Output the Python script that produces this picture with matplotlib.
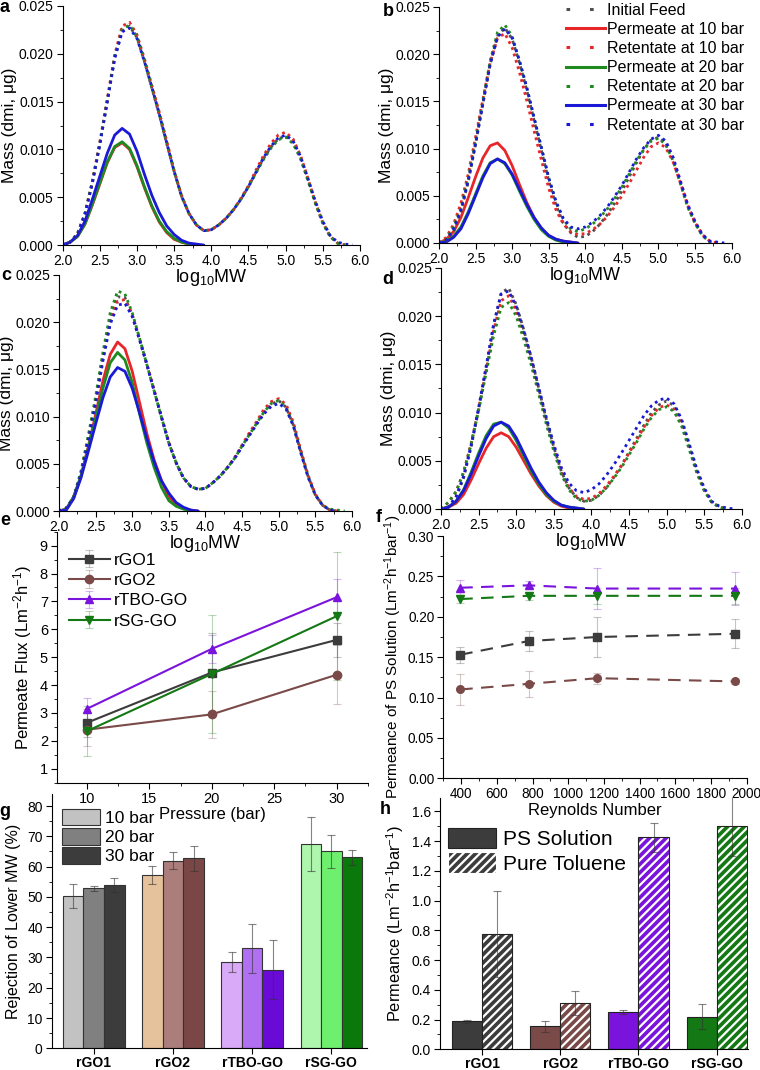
import numpy as np
import matplotlib
matplotlib.use('Agg')
import matplotlib.pyplot as plt
from matplotlib.lines import Line2D
from matplotlib.patches import Patch
from matplotlib.colors import to_rgba
from matplotlib.ticker import MultipleLocator

plt.rcParams['font.family'] = ['Liberation Sans', 'DejaVu Sans']
plt.rcParams['mathtext.fontset'] = 'custom'
plt.rcParams['mathtext.rm'] = 'Liberation Sans'
plt.rcParams['mathtext.it'] = 'Liberation Sans:italic'
plt.rcParams['hatch.linewidth'] = 1.6
plt.rcParams['axes.facecolor'] = 'none'

# ---- GPC curves (panels a-d), log10 MW grid
LOGMW = [2.0, 2.1, 2.2, 2.3, 2.4, 2.5, 2.6, 2.7, 2.8, 2.9, 3.0, 3.1, 3.2, 3.3, 3.4, 3.5, 3.6, 3.7, 3.8, 3.9, 4.0,
         4.1, 4.2, 4.3, 4.4, 4.5, 4.6, 4.7, 4.8, 4.9, 5.0, 5.1, 5.2, 5.3, 5.4, 5.5, 5.6, 5.7, 5.8, 5.9, 6.0]
PERM_MW = [2.0, 2.1, 2.2, 2.3, 2.4, 2.5, 2.6, 2.7, 2.8, 2.9, 3.0, 3.1, 3.2, 3.3, 3.4, 3.5, 3.6, 3.7, 3.8, 3.9, 4.0]

A_FEED = [0, .0003, .0012, .0033, .0066, .0106, .0150, .0196, .0224, .0229, .0217, .0192, .0164, .0136, .0106, .0077, .0051, .0033, .0021, .0015, .0016,
          .0021, .0028, .0037, .0048, .0061, .0076, .0090, .0102, .0111, .0114, .0107, .0091, .0068, .0044, .0023, .0009, .0002, 0, 0, 0]
A_RET10 = [0, .0003, .0012, .0033, .0067, .0108, .0153, .0199, .0229, .0233, .0220, .0195, .0167, .0139, .0109, .0078, .0052, .0033, .0021, .0015, .0016,
           .0021, .0028, .0037, .0049, .0062, .0078, .0093, .0106, .0115, .0118, .0111, .0094, .0070, .0045, .0024, .0009, .0002, 0, 0, 0]
A_RET20 = [0, .0003, .0012, .0033, .0066, .0106, .0151, .0197, .0226, .0230, .0218, .0193, .0165, .0137, .0107, .0077, .0051, .0033, .0021, .0015, .0016,
           .0021, .0028, .0037, .0048, .0061, .0075, .0089, .0101, .0110, .0113, .0106, .0091, .0068, .0044, .0023, .0009, .0002, 0, 0, 0]
A_RET30 = [0, .0003, .0011, .0032, .0065, .0105, .0150, .0195, .0223, .0227, .0216, .0192, .0165, .0137, .0107, .0077, .0051, .0033, .0021, .0015, .0016,
           .0021, .0028, .0037, .0048, .0061, .0076, .0091, .0103, .0112, .0115, .0109, .0093, .0070, .0046, .0025, .0010, .0003, .0001, 0, 0]
A_PER10 = [0, .0003, .0009, .0022, .0042, .0064, .0086, .0102, .0107, .0100, .0082, .0060, .0040, .0024, .0013, .0006, .0003, .0001, 0, 0, 0]
A_PER20 = [0, .0003, .0009, .0022, .0043, .0065, .0087, .0103, .0108, .0101, .0083, .0061, .0041, .0025, .0014, .0007, .0003, .0001, 0, 0, 0]
A_PER30 = [0, .0003, .0010, .0025, .0048, .0072, .0096, .0115, .0122, .0116, .0098, .0074, .0052, .0034, .0020, .0011, .0005, .0002, .0001, 0, 0]

B_FEED = [0, .0002, .0012, .0033, .0065, .0105, .0148, .0190, .0219, .0228, .0216, .0191, .0162, .0130, .0098, .0066, .0040, .0021, .0011, .0006, .0007,
          .0012, .0020, .0030, .0042, .0055, .0070, .0085, .0099, .0109, .0112, .0106, .0089, .0064, .0039, .0021, .0008, .0002, 0, 0, 0]
B_RET10 = [0, .0006, .0020, .0042, .0073, .0112, .0152, .0191, .0217, .0222, .0207, .0181, .0151, .0119, .0088, .0058, .0035, .0020, .0012, .0009, .0010,
           .0014, .0020, .0028, .0038, .0050, .0063, .0077, .0091, .0102, .0106, .0101, .0086, .0064, .0040, .0022, .0009, .0002, 0, 0, 0]
B_RET20 = [0, .0004, .0017, .0037, .0068, .0107, .0150, .0193, .0223, .0231, .0219, .0193, .0164, .0132, .0101, .0069, .0043, .0025, .0015, .0012, .0015,
           .0020, .0027, .0036, .0047, .0059, .0073, .0087, .0099, .0108, .0111, .0104, .0087, .0063, .0038, .0021, .0008, .0001, 0, 0, 0]
B_RET30 = [0, .0003, .0015, .0035, .0066, .0105, .0147, .0189, .0218, .0227, .0217, .0193, .0165, .0133, .0101, .0069, .0044, .0026, .0017, .0015, .0017,
           .0022, .0029, .0038, .0049, .0061, .0075, .0089, .0101, .0110, .0114, .0108, .0091, .0066, .0041, .0023, .0009, .0002, .0001, 0, 0]
B_PER10 = [0, .0004, .0012, .0027, .0048, .0070, .0090, .0103, .0106, .0098, .0082, .0062, .0043, .0027, .0015, .0008, .0004, .0002, .0001, 0, 0]
B_PER20 = [0, .0002, .0007, .0017, .0033, .0052, .0071, .0085, .0089, .0084, .0072, .0055, .0039, .0025, .0014, .0007, .0003, .0001, 0, 0, 0]
B_PER30 = [0, .0001, .0006, .0015, .0031, .0050, .0069, .0084, .0089, .0085, .0073, .0057, .0041, .0027, .0016, .0008, .0004, .0002, .0001, 0, 0]

C_FEED = [0, .0003, .0014, .0040, .0077, .0117, .0164, .0205, .0227, .0226, .0208, .0182, .0155, .0127, .0099, .0072, .0051, .0035, .0026, .0023, .0024,
          .0030, .0037, .0046, .0056, .0069, .0081, .0093, .0105, .0113, .0117, .0110, .0091, .0063, .0037, .0017, .0006, .0001, 0, 0, 0]
C_RET10 = [0, .0003, .0014, .0040, .0077, .0116, .0162, .0201, .0222, .0224, .0208, .0183, .0156, .0128, .0100, .0073, .0051, .0035, .0026, .0023, .0024,
           .0030, .0037, .0046, .0057, .0070, .0083, .0095, .0108, .0116, .0119, .0113, .0094, .0065, .0038, .0018, .0006, .0001, 0, 0, 0]
C_RET20 = [0, .0003, .0015, .0042, .0080, .0121, .0168, .0210, .0233, .0230, .0210, .0183, .0155, .0127, .0099, .0072, .0051, .0035, .0026, .0023, .0024,
           .0030, .0037, .0046, .0056, .0069, .0081, .0093, .0105, .0114, .0117, .0110, .0091, .0063, .0037, .0017, .0006, .0002, .0001, 0, 0]
C_RET30 = [0, .0003, .0014, .0039, .0075, .0114, .0159, .0198, .0218, .0220, .0206, .0181, .0155, .0127, .0099, .0072, .0051, .0035, .0026, .0023, .0024,
           .0030, .0037, .0046, .0056, .0068, .0080, .0092, .0103, .0111, .0114, .0108, .0090, .0062, .0036, .0017, .0006, .0001, 0, 0, 0]
C_PER10 = [0, .0002, .0015, .0037, .0068, .0102, .0138, .0166, .0179, .0172, .0148, .0115, .0082, .0054, .0032, .0015, .0007, .0003, .0001, 0, 0]
C_PER20 = [0, .0002, .0015, .0037, .0067, .0098, .0130, .0157, .0168, .0160, .0136, .0103, .0072, .0046, .0025, .0011, .0005, .0002, 0, 0, 0]
C_PER30 = [0, .0001, .0013, .0035, .0063, .0092, .0120, .0142, .0152, .0148, .0130, .0104, .0077, .0052, .0032, .0019, .0009, .0004, .0001, 0, 0]

D_FEED = [0, .0002, .0012, .0032, .0064, .0103, .0146, .0190, .0224, .0229, .0212, .0186, .0157, .0125, .0093, .0064, .0039, .0022, .0012, .0008, .0009,
          .0014, .0022, .0033, .0045, .0059, .0073, .0087, .0100, .0108, .0112, .0107, .0091, .0066, .0040, .0020, .0007, .0002, 0, 0, 0]
D_RET10 = [0, .0007, .0018, .0038, .0068, .0104, .0144, .0185, .0216, .0221, .0206, .0181, .0153, .0122, .0091, .0063, .0038, .0022, .0013, .0010, .0011,
           .0016, .0024, .0034, .0045, .0058, .0071, .0085, .0097, .0105, .0108, .0103, .0088, .0064, .0039, .0020, .0007, .0002, 0, 0, 0]
D_RET20 = [0, .0007, .0018, .0038, .0067, .0102, .0141, .0180, .0209, .0214, .0200, .0176, .0149, .0119, .0088, .0060, .0036, .0020, .0011, .0008, .0009,
           .0014, .0022, .0032, .0043, .0056, .0069, .0083, .0095, .0103, .0106, .0101, .0086, .0062, .0038, .0019, .0007, .0002, 0, 0, 0]
D_RET30 = [0, .0002, .0013, .0034, .0066, .0105, .0148, .0192, .0223, .0226, .0210, .0185, .0157, .0126, .0095, .0067, .0043, .0027, .0019, .0017, .0020,
           .0026, .0035, .0046, .0058, .0071, .0084, .0097, .0107, .0113, .0115, .0109, .0093, .0068, .0042, .0022, .0008, .0003, .0001, 0, 0]
D_PER10 = [0, .0002, .0006, .0015, .0030, .0047, .0063, .0075, .0079, .0075, .0064, .0050, .0036, .0024, .0014, .0007, .0003, .0001, 0, 0, 0]
D_PER20 = [0, .0002, .0008, .0020, .0038, .0058, .0076, .0088, .0090, .0084, .0071, .0055, .0039, .0026, .0015, .0008, .0004, .0002, .0001, 0, 0]
D_PER30 = [0, .0002, .0008, .0019, .0036, .0055, .0073, .0086, .0090, .0086, .0074, .0058, .0042, .0028, .0017, .0009, .0004, .0002, .0001, 0, 0]

# ---- panel e: permeate flux vs pressure
MEMBRANES = ['rGO1', 'rGO2', 'rTBO-GO', 'rSG-GO']
PRESSURE = [10, 20, 30]
FLUX = {'rGO1': [2.65, 4.45, 5.62], 'rGO2': [2.40, 2.95, 4.37],
        'rTBO-GO': [3.15, 5.30, 7.15], 'rSG-GO': [2.35, 4.40, 6.47]}
FLUX_ERR = {'rGO1': [0.5, 1.4, 0.6], 'rGO2': [0.6, 0.85, 1.05],
            'rTBO-GO': [0.4, 0.5, 0.65], 'rSG-GO': [0.9, 2.1, 2.3]}

# ---- panel f: PS permeance vs Reynolds number
REYNOLDS = [395, 778, 1163, 1935]
PS_PERM = {'rGO1': [0.153, 0.170, 0.175, 0.179], 'rGO2': [0.110, 0.117, 0.124, 0.120],
           'rTBO-GO': [0.236, 0.239, 0.235, 0.235], 'rSG-GO': [0.222, 0.226, 0.226, 0.226]}
PS_PERM_ERR = {'rGO1': [0.010, 0.012, 0.025, 0.018], 'rGO2': [0.019, 0.016, 0.007, 0.003],
               'rTBO-GO': [0.010, 0.005, 0.025, 0.020], 'rSG-GO': [0.005, 0.005, 0.010, 0.010]}

# ---- panel g: rejection of lower MW
PRESS_LABELS = ['10 bar', '20 bar', '30 bar']
REJECTION = {'rGO1': [50.3, 52.8, 53.9], 'rGO2': [57.2, 61.9, 62.7],
             'rTBO-GO': [28.4, 33.0, 26.0], 'rSG-GO': [67.5, 65.1, 63.1]}
REJECTION_ERR = {'rGO1': [4.0, 0.8, 2.3], 'rGO2': [3.0, 2.8, 4.2],
                 'rTBO-GO': [3.3, 8.1, 9.7], 'rSG-GO': [9.0, 5.4, 2.5]}

# ---- panel h: permeance PS solution vs pure toluene
PERM_PS = [0.19, 0.155, 0.25, 0.22]
PERM_PS_ERR = [0.01, 0.035, 0.015, 0.085]
PERM_TOL = [0.775, 0.31, 1.425, 1.50]
PERM_TOL_ERR = [0.29, 0.08, 0.095, 0.20]

RED, GREEN, BLUE, GREY = '#e8262a', '#1f8a1f', '#1a1ad6', '#505050'
MEM_COLORS = {'rGO1': '#3c3c3c', 'rGO2': '#7a4a48', 'rTBO-GO': '#7a14dc', 'rSG-GO': '#147814'}
MEM_MARKERS = {'rGO1': 's', 'rGO2': 'o', 'rTBO-GO': '^', 'rSG-GO': 'v'}
BAR_COLORS = {'rGO1': ['#c2c2c2', '#808080', '#3c3c3c'],
              'rGO2': ['#e6c29c', '#ab7d7b', '#7a4746'],
              'rTBO-GO': ['#d9aaf7', '#b16ff2', '#6a0ad6'],
              'rSG-GO': ['#aef5ae', '#6ef06e', '#0a780a']}

DOT = (0, (1.0, 1.4))


def trim(x, y):
    # drop the long flat zero tails so they are not drawn along the axis
    y = np.asarray(y, dtype=float)
    nz = np.nonzero(y)[0]
    i0, i1 = max(nz[0] - 1, 0), min(nz[-1] + 2, len(y))
    return np.asarray(x)[i0:i1], y[i0:i1]


def style_axes(ax, labelsize=10):
    ax.spines['top'].set_visible(False)
    ax.spines['right'].set_visible(False)
    ax.tick_params(direction='out', length=4, width=0.8, labelsize=labelsize, pad=2.5)
    ax.tick_params(which='minor', direction='out', length=2, width=0.6)


def gpc_panel(ax, feed, rets, pers):
    colors = [RED, GREEN, BLUE]
    for per, c in zip(pers, colors):
        x, y = trim(PERM_MW, per)
        ax.plot(x, y, color=c, lw=2.0, solid_capstyle='round')
    x, y = trim(LOGMW, feed)
    ax.plot(x, y, color=GREY, lw=2.0, ls=DOT)
    for ret, c in zip(rets, colors):
        x, y = trim(LOGMW, ret)
        ax.plot(x, y, color=c, lw=2.0, ls=DOT)
    ax.set_xlim(2.0, 6.0)
    ax.set_ylim(0, 0.025)
    ax.xaxis.set_major_locator(MultipleLocator(0.5))
    ax.xaxis.set_minor_locator(MultipleLocator(0.25))
    ax.yaxis.set_major_locator(MultipleLocator(0.005))
    ax.yaxis.set_minor_locator(MultipleLocator(0.0025))
    ax.yaxis.set_major_formatter(plt.FormatStrFormatter('%.3f'))
    ax.set_xlabel(r'log$_{10}$MW', fontsize=13, labelpad=-1)
    ax.set_ylabel(u'Mass (dmi, \u03bcg)', fontsize=12.5, labelpad=1)
    style_axes(ax)


fig = plt.figure(figsize=(7.6, 10.7), dpi=100)

ax_a = fig.add_axes([0.0825, 0.771, 0.391, 0.2234])
ax_b = fig.add_axes([0.5776, 0.7729, 0.385, 0.2206])
ax_c = fig.add_axes([0.0776, 0.5224, 0.3855, 0.2206])
ax_d = fig.add_axes([0.5803, 0.5243, 0.3957, 0.2254])

gpc_panel(ax_a, A_FEED, [A_RET10, A_RET20, A_RET30], [A_PER10, A_PER20, A_PER30])
gpc_panel(ax_b, B_FEED, [B_RET10, B_RET20, B_RET30], [B_PER10, B_PER20, B_PER30])
gpc_panel(ax_c, C_FEED, [C_RET10, C_RET20, C_RET30], [C_PER10, C_PER20, C_PER30])
gpc_panel(ax_d, D_FEED, [D_RET10, D_RET20, D_RET30], [D_PER10, D_PER20, D_PER30])

legend_dot = (0, (1.2, 6.5))
handles = [Line2D([], [], color=GREY, lw=2.2, ls=legend_dot),
           Line2D([], [], color=RED, lw=2.2),
           Line2D([], [], color=RED, lw=2.2, ls=legend_dot),
           Line2D([], [], color=GREEN, lw=2.2),
           Line2D([], [], color=GREEN, lw=2.2, ls=legend_dot),
           Line2D([], [], color=BLUE, lw=2.2),
           Line2D([], [], color=BLUE, lw=2.2, ls=legend_dot)]
labels = ['Initial Feed', 'Permeate at 10 bar', 'Retentate at 10 bar', 'Permeate at 20 bar',
          'Retentate at 20 bar', 'Permeate at 30 bar', 'Retentate at 30 bar']
ax_b.legend(handles, labels, loc='upper right', bbox_to_anchor=(1.065, 1.045), borderaxespad=0,
            frameon=False, fontsize=11.5, handlelength=2.4, handletextpad=0.15, labelspacing=0.26)

# ---- panel e
ax_e = fig.add_axes([0.075, 0.2685, 0.409, 0.2346])
for m in MEMBRANES:
    c = MEM_COLORS[m]
    ax_e.errorbar(PRESSURE, FLUX[m], yerr=FLUX_ERR[m], color=c, ecolor=to_rgba(c, 0.3),
                  elinewidth=0.8, capsize=3, capthick=0.8, lw=1.5, marker=MEM_MARKERS[m],
                  ms=6, label=m)
ax_e.set_xlim(7.6, 32.5)
ax_e.set_ylim(0.5, 9.5)
ax_e.xaxis.set_major_locator(MultipleLocator(5))
ax_e.xaxis.set_minor_locator(MultipleLocator(2.5))
ax_e.yaxis.set_major_locator(MultipleLocator(1))
ax_e.yaxis.set_minor_locator(MultipleLocator(0.5))
ax_e.set_xlabel('Pressure (bar)', fontsize=12, labelpad=1)
ax_e.set_ylabel(r'Permeate Flux (Lm$^{-2}$h$^{-1}$)', fontsize=12, labelpad=4)
ax_e.legend(loc='upper left', bbox_to_anchor=(0.015, 0.945), borderaxespad=0, frameon=False,
            fontsize=12.5, handlelength=2.4, handletextpad=0.2, labelspacing=0.3)
style_axes(ax_e, 10.5)

# ---- panel f
ax_f = fig.add_axes([0.5833, 0.2726, 0.3992, 0.2264])
for m in MEMBRANES:
    c = MEM_COLORS[m]
    ax_f.errorbar(REYNOLDS, PS_PERM[m], yerr=PS_PERM_ERR[m], color=c, ecolor=to_rgba(c, 0.3),
                  elinewidth=0.8, capsize=3, capthick=0.8, lw=1.5, ls=(0, (6, 4)),
                  marker=MEM_MARKERS[m], ms=5.5)
ax_f.set_xlim(300, 2000)
ax_f.set_ylim(0, 0.30)
ax_f.xaxis.set_major_locator(MultipleLocator(200))
ax_f.xaxis.set_minor_locator(MultipleLocator(100))
ax_f.yaxis.set_major_locator(MultipleLocator(0.05))
ax_f.yaxis.set_minor_locator(MultipleLocator(0.025))
ax_f.yaxis.set_major_formatter(plt.FormatStrFormatter('%.2f'))
ax_f.set_xlabel('Reynolds Number', fontsize=12, labelpad=1)
ax_f.set_ylabel(r'Permeance of PS Solution (Lm$^{-2}$h$^{-1}$bar$^{-1}$)', fontsize=11, labelpad=3)
style_axes(ax_f, 9.8)

# ---- panel g
ax_g = fig.add_axes([0.068, 0.0203, 0.415, 0.2377])
width = 0.26
for gi, m in enumerate(MEMBRANES):
    for pi in range(3):
        xpos = gi + (pi - 1) * width
        ax_g.bar(xpos, REJECTION[m][pi], width=width, color=BAR_COLORS[m][pi],
                 edgecolor='#333333', linewidth=0.8)
        ax_g.errorbar(xpos, REJECTION[m][pi], yerr=REJECTION_ERR[m][pi], color='#333333',
                      alpha=0.6, elinewidth=0.8, capsize=3, capthick=0.8)
ax_g.set_xlim(-0.53, 3.45)
ax_g.set_ylim(0, 84)
ax_g.set_xticks(range(4))
ax_g.set_xticklabels(MEMBRANES, fontweight='bold', fontsize=10.5)
ax_g.yaxis.set_major_locator(MultipleLocator(10))
ax_g.yaxis.set_minor_locator(MultipleLocator(5))
ax_g.set_ylabel('Rejection of Lower MW (%)', fontsize=11.5, labelpad=4)
g_handles = [Patch(facecolor=c, edgecolor='#333333', linewidth=0.8) for c in BAR_COLORS['rGO1']]
ax_g.legend(g_handles, PRESS_LABELS, loc='upper left', bbox_to_anchor=(0.01, 0.97), borderaxespad=0,
            frameon=False, fontsize=12.5, handlelength=2.2, handleheight=1.1, handletextpad=0.3,
            labelspacing=0.12)
style_axes(ax_g, 10)
ax_g.tick_params(axis='x', pad=1.5)

# ---- panel h
ax_h = fig.add_axes([0.579, 0.0193, 0.405, 0.2349])
hw = 0.385
for gi, m in enumerate(MEMBRANES):
    c = MEM_COLORS[m]
    ax_h.bar(gi - hw / 2, PERM_PS[gi], width=hw, color=c, edgecolor='#222222', linewidth=0.8)
    ax_h.errorbar(gi - hw / 2, PERM_PS[gi], yerr=PERM_PS_ERR[gi], color='#333333', alpha=0.6,
                  elinewidth=0.8, capsize=3, capthick=0.8)
    ax_h.bar(gi + hw / 2, PERM_TOL[gi], width=hw, color=c, edgecolor='white', hatch='////',
             linewidth=0)
    ax_h.bar(gi + hw / 2, PERM_TOL[gi], width=hw, fill=False, edgecolor='#222222', linewidth=0.8)
    ax_h.errorbar(gi + hw / 2, PERM_TOL[gi], yerr=PERM_TOL_ERR[gi], color='#333333', alpha=0.6,
                  elinewidth=0.8, capsize=3, capthick=0.8)
ax_h.set_xlim(-0.54, 3.4)
ax_h.set_ylim(0, 1.69)
ax_h.set_xticks(range(4))
ax_h.set_xticklabels(MEMBRANES, fontweight='bold', fontsize=10.5)
ax_h.yaxis.set_major_locator(MultipleLocator(0.2))
ax_h.yaxis.set_minor_locator(MultipleLocator(0.1))
ax_h.yaxis.set_major_formatter(plt.FormatStrFormatter('%.1f'))
ax_h.set_ylabel(r'Permeance (Lm$^{-2}$h$^{-1}$bar$^{-1}$)', fontsize=11.8, labelpad=4)
h_handles = [Patch(facecolor='#3c3c3c', edgecolor='#222222', linewidth=0.8),
             Patch(facecolor='#3c3c3c', edgecolor='white', hatch='////', linewidth=0.8)]
ax_h.legend(h_handles, ['PS Solution', 'Pure Toluene'], loc='upper left', bbox_to_anchor=(0.0, 0.915),
            borderaxespad=0, frameon=False, fontsize=15, handlelength=2.3, handleheight=1.15,
            handletextpad=0.3, labelspacing=0.15)
style_axes(ax_h, 10)
ax_h.tick_params(axis='x', pad=1.5)

# panel letters
for letter, px, py in [('a', 4, 8), ('b', 388, 12), ('c', 6, 276), ('d', 388, 280),
                       ('e', 5, 520), ('f', 379, 518), ('g', 5, 812), ('h', 385, 810)]:
    fig.text(px / 760, 1 - py / 1070, letter, fontsize=13, fontweight='bold',
             ha='center', va='center')

fig.savefig('out.png', dpi=100)
